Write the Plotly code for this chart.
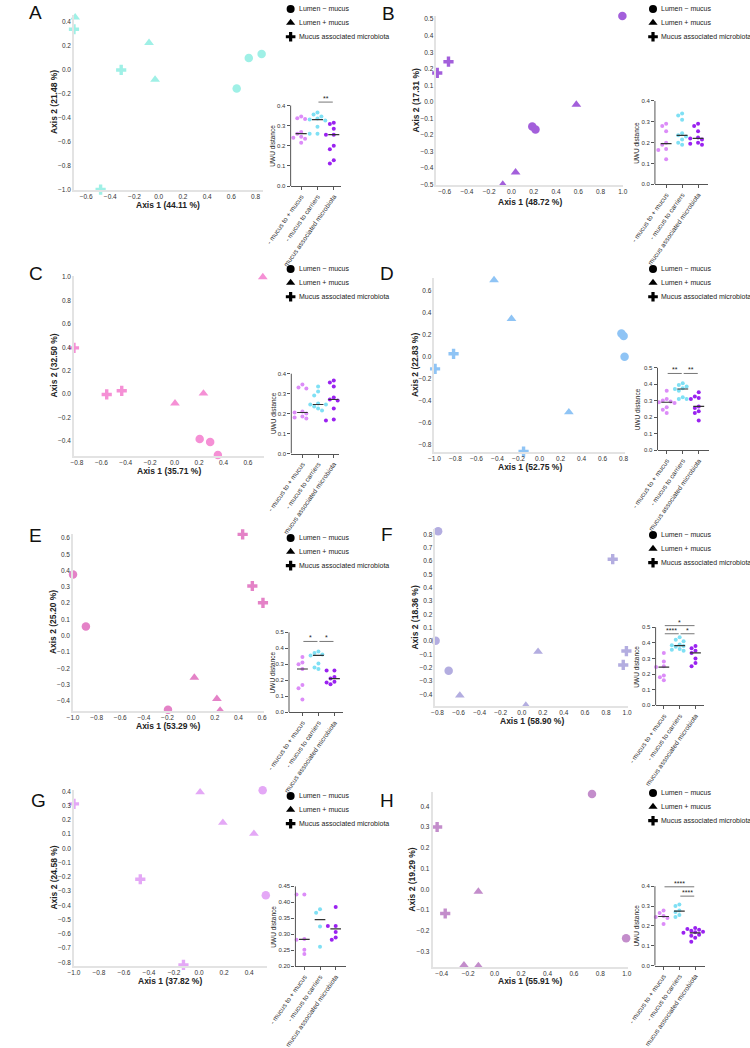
import numpy as np
import plotly.graph_objects as go

W, H = 750, 1048
FONT = "Liberation Sans"

# ------------------------------------------------------------------ data
# PCoA coordinates: lm = Lumen - mucus (circles), lp = Lumen + mucus (triangles),
# ma = Mucus associated microbiota (crosses)
A_lm_x = [0.744, 0.85, 0.644];   A_lm_y = [0.099, 0.134, -0.156]
A_lp_x = [-0.69, -0.08, -0.03];  A_lp_y = [0.44, 0.227, -0.08]
A_ma_x = [-0.70, -0.31, -0.48];  A_ma_y = [0.34, 0.0, -1.0]

B_lm_x = [0.997, 0.187, 0.216];  B_lm_y = [0.52, -0.149, -0.167]
B_lp_x = [0.583, 0.037, -0.078]; B_lp_y = [-0.016, -0.426, -0.50]
B_ma_x = [-0.68, -0.566, -0.667]; B_ma_y = [0.315, 0.243, 0.175]

C_lm_x = [0.205, 0.291, 0.354];  C_lm_y = [-0.384, -0.41, -0.52]
C_lp_x = [0.722, 0.003, 0.236];  C_lp_y = [1.0, -0.079, 0.006]
C_ma_x = [-0.824, -0.556, -0.433]; C_ma_y = [0.395, -0.003, 0.028]

D_lm_x = [0.779, 0.80, 0.809];   D_lm_y = [0.213, 0.19, 0.0]
D_lp_x = [-0.433, -0.267, 0.279]; D_lp_y = [0.70, 0.347, -0.506]
D_ma_x = [-0.818, -0.994, -0.152]; D_ma_y = [0.027, -0.11, -0.865]

E_lm_x = [-1.0, -0.891, -0.196]; E_lm_y = [0.376, 0.057, -0.455]
E_lp_x = [0.027, 0.218, 0.245];  E_lp_y = [-0.257, -0.388, -0.459]
E_ma_x = [0.436, 0.518, 0.608];  E_ma_y = [0.622, 0.305, 0.202]

F_lm_x = [-0.794, -0.818, -0.694]; F_lm_y = [0.823, 0.002, -0.224]
F_lp_x = [0.155, -0.588, 0.039];  F_lp_y = [-0.081, -0.409, -0.485]
F_ma_x = [0.864, 0.994, 0.964];   F_ma_y = [0.613, -0.076, -0.18]

G_lm_x = [0.508, 0.533];          G_lm_y = [0.408, -0.329]
G_lp_x = [0.008, 0.19, 0.438];    G_lp_y = [0.394, 0.18, 0.103]
G_ma_x = [-1.0, -0.47, -0.125];   G_ma_y = [0.312, -0.217, -0.818]

H_lm_x = [0.737, 0.995];          H_lm_y = [0.46, -0.235]
H_lp_x = [-0.123, -0.232, -0.123]; H_lp_y = [-0.01, -0.365, -0.369]
H_ma_x = [-0.471, -0.435, -0.374]; H_ma_y = [0.328, 0.301, -0.116]

# explained variance of the axes (%)
A_pct = ["44.11", "21.48"]; B_pct = ["48.72", "17.31"]
C_pct = ["35.71", "32.50"]; D_pct = ["52.75", "22.83"]
E_pct = ["53.29", "25.20"]; F_pct = ["58.90", "18.36"]
G_pct = ["37.82", "24.58"]; H_pct = ["55.91", "19.29"]

# UWU distances (inset strip plots): d0 = - mucus to + mucus, d1 = - mucus to carriers,
# d2 = mucus associated microbiota
A_d0 = [0.345, 0.337, 0.333, 0.268, 0.26, 0.245, 0.24, 0.235, 0.215]
A_d1 = [0.365, 0.355, 0.345, 0.335, 0.33, 0.325, 0.295, 0.26, 0.26]
A_d2 = [0.315, 0.308, 0.285, 0.255, 0.255, 0.2, 0.183, 0.128, 0.112]
B_d0 = [0.29, 0.28, 0.255, 0.2, 0.19, 0.17, 0.165, 0.12]
B_d1 = [0.34, 0.33, 0.31, 0.245, 0.235, 0.23, 0.215, 0.2, 0.19]
B_d2 = [0.29, 0.28, 0.255, 0.225, 0.22, 0.215, 0.2, 0.195, 0.19]
C_d0 = [0.345, 0.33, 0.325, 0.21, 0.205, 0.2, 0.185, 0.18, 0.175]
C_d1 = [0.335, 0.31, 0.29, 0.25, 0.245, 0.245, 0.235, 0.225, 0.215]
C_d2 = [0.365, 0.355, 0.335, 0.28, 0.27, 0.265, 0.225, 0.17, 0.165]
D_d0 = [0.36, 0.31, 0.3, 0.295, 0.29, 0.285, 0.26, 0.245, 0.225]
D_d1 = [0.405, 0.395, 0.385, 0.375, 0.37, 0.36, 0.32, 0.31, 0.31]
D_d2 = [0.35, 0.325, 0.315, 0.31, 0.265, 0.255, 0.235, 0.225, 0.18]
E_d0 = [0.345, 0.31, 0.3, 0.27, 0.17, 0.15, 0.08]
E_d1 = [0.38, 0.37, 0.36, 0.355, 0.305, 0.28, 0.27]
E_d2 = [0.26, 0.26, 0.22, 0.21, 0.19, 0.185, 0.175]
F_d0 = [0.335, 0.28, 0.25, 0.245, 0.19, 0.18, 0.16]
F_d1 = [0.435, 0.42, 0.41, 0.39, 0.385, 0.38, 0.375, 0.36, 0.355, 0.35]
F_d2 = [0.38, 0.365, 0.35, 0.335, 0.3, 0.27, 0.25]
G_d0 = [0.424, 0.424, 0.285, 0.283, 0.252, 0.238]
G_d1 = [0.378, 0.367, 0.324, 0.261]
G_d2 = [0.385, 0.326, 0.326, 0.307, 0.29, 0.283]
H_d0 = [0.278, 0.265, 0.25, 0.245, 0.24, 0.21]
H_d1 = [0.308, 0.3, 0.278, 0.27, 0.255, 0.245]
H_d2 = [0.19, 0.185, 0.18, 0.175, 0.17, 0.168, 0.165, 0.165, 0.16, 0.155, 0.15, 0.14, 0.12]

# significance brackets: (from category, to category, height, label)
A_sig = [(1, 2, 0.417, "**")]
B_sig = []
C_sig = []
D_sig = [(0, 1, 0.464, "**"), (1, 2, 0.464, "**")]
E_sig = [(0, 1, 0.442, "*"), (1, 2, 0.442, "*")]
F_sig = [(0, 1, 0.458, "****"), (1, 2, 0.458, "*"), (0, 2, 0.51, "*")]
G_sig = []
H_sig = [(0, 2, 0.397, "****"), (1, 2, 0.35, "****")]

INSET_CATS = ["- mucus to + mucus", "- mucus to carriers", "mucus associated microbiota"]
LEGEND_LABELS = ["Lumen \u2212 mucus", "Lumen + mucus", "Mucus associated microbiota"]

# tick values
A_xticks = [-0.6, -0.4, -0.2, 0.0, 0.2, 0.4, 0.6, 0.8]
A_yticks = [-1.0, -0.8, -0.6, -0.4, -0.2, 0.0, 0.2, 0.4]
B_xticks = [-0.6, -0.4, -0.2, 0.0, 0.2, 0.4, 0.6, 0.8, 1.0]
B_yticks = [-0.5, -0.4, -0.3, -0.2, -0.1, 0.0, 0.1, 0.2, 0.3, 0.4, 0.5]
C_xticks = [-0.8, -0.6, -0.4, -0.2, 0.0, 0.2, 0.4, 0.6]
C_yticks = [-0.4, -0.2, 0.0, 0.2, 0.4, 0.6, 0.8, 1.0]
D_xticks = [-1.0, -0.8, -0.6, -0.4, -0.2, 0.0, 0.2, 0.4, 0.6, 0.8]
D_yticks = [-0.8, -0.6, -0.4, -0.2, 0.0, 0.2, 0.4, 0.6]
E_xticks = [-1.0, -0.8, -0.6, -0.4, -0.2, 0.0, 0.2, 0.4, 0.6]
E_yticks = [-0.4, -0.3, -0.2, -0.1, 0.0, 0.1, 0.2, 0.3, 0.4, 0.5, 0.6]
F_xticks = [-0.8, -0.6, -0.4, -0.2, 0.0, 0.2, 0.4, 0.6, 0.8, 1.0]
F_yticks = [-0.4, -0.3, -0.2, -0.1, 0.0, 0.1, 0.2, 0.3, 0.4, 0.5, 0.6, 0.7, 0.8]
G_xticks = [-1.0, -0.8, -0.6, -0.4, -0.2, 0.0, 0.2, 0.4]
G_yticks = [-0.8, -0.7, -0.6, -0.5, -0.4, -0.3, -0.2, -0.1, 0.0, 0.1, 0.2, 0.3, 0.4]
H_xticks = [-0.4, -0.2, 0.0, 0.2, 0.4, 0.6, 0.8, 1.0]
H_yticks = [-0.3, -0.2, -0.1, 0.0, 0.1, 0.2, 0.3, 0.4]
I4_ticks = [0.0, 0.1, 0.2, 0.3, 0.4]
I5_ticks = [0.0, 0.1, 0.2, 0.3, 0.4, 0.5]
G_iticks = [0.20, 0.25, 0.30, 0.35, 0.40, 0.45]

# ------------------------------------------------------------------ styling / layout
PANEL_COLORS = {"A": "#9FF0E6", "B": "#A35FDB", "C": "#F590D5", "D": "#8FC4F5",
                "E": "#E482C7", "F": "#B3ADE0", "G": "#E4A8F6", "H": "#C38DCB"}
INSET_COLORS = ["#DC8CF8", "#7FE0F4", "#9A22F0"]

panels = [
    dict(key="A", lm=(A_lm_x, A_lm_y), lp=(A_lp_x, A_lp_y), ma=(A_ma_x, A_ma_y), pct=A_pct,
         xt=A_xticks, yt=A_yticks, d=(A_d0, A_d1, A_d2), it=I4_ticks, itf=".1f", sig=A_sig,
         sx=(49, 246), sy=(12, 188), xr=(-0.70, 0.86), yr=(-1.0, 0.46), xto=15.5,
         ix=(275, 286, 320, 328), iy=(184.5, 103.3), ir=(0.0, 0.4), leg=(275, 6), let=(9, 9.5), yto=18.5),
    dict(key="B", lm=(B_lm_x, B_lm_y), lp=(B_lp_x, B_lp_y), ma=(B_ma_x, B_ma_y), pct=B_pct,
         xt=B_xticks, yt=B_yticks, d=(B_d0, B_d1, B_d2), it=I4_ticks, itf=".1f", sig=B_sig,
         sx=(427, 622), sy=(13, 183), xr=(-0.675, 1.005), yr=(-0.5, 0.52), xto=17.5,
         ix=(655, 666.7, 700, 710), iy=(182.7, 98.7), ir=(0.0, 0.4), leg=(653, 6), let=(377.5, 10.5), yto=19.5),
    dict(key="C", lm=(C_lm_x, C_lm_y), lp=(C_lp_x, C_lp_y), ma=(C_ma_x, C_ma_y), pct=C_pct,
         xt=C_xticks, yt=C_yticks, d=(C_d0, C_d1, C_d2), it=I4_ticks, itf=".1f", sig=C_sig,
         sx=(49, 247), sy=(275, 456), xr=(-0.824, 0.73), yr=(-0.525, 1.01), xto=15.5,
         ix=(275.7, 287.3, 320, 325), iy=(454, 373.3), ir=(0.0, 0.4), leg=(275, 268), let=(9, 272.5), yto=18.5),
    dict(key="D", lm=(D_lm_x, D_lm_y), lp=(D_lp_x, D_lp_y), ma=(D_ma_x, D_ma_y), pct=D_pct,
         xt=D_xticks, yt=D_yticks, d=(D_d0, D_d1, D_d2), it=I5_ticks, itf=".1f", sig=D_sig,
         sx=(425, 624), sy=(277, 452), xr=(-1.0, 0.815), yr=(-0.865, 0.72), xto=16,
         ix=(657.7, 667.3, 700.7, 711), iy=(450.7, 367.3), ir=(0.0, 0.5), leg=(653, 268), let=(375.5, 272.5), yto=20),
    dict(key="E", lm=(E_lm_x, E_lm_y), lp=(E_lp_x, E_lp_y), ma=(E_ma_x, E_ma_y), pct=E_pct,
         xt=E_xticks, yt=E_yticks, d=(E_d0, E_d1, E_d2), it=I5_ticks, itf=".1f", sig=E_sig,
         sx=(48, 247), sy=(535, 713), xr=(-1.0, 0.615), yr=(-0.46, 0.625), xto=16,
         ix=(273.3, 287.3, 320.7, 330), iy=(714.7, 634), ir=(0.0, 0.5), leg=(275, 539), let=(8.5, 537), yto=17.5),
    dict(key="F", lm=(F_lm_x, F_lm_y), lp=(F_lp_x, F_lp_y), ma=(F_ma_x, F_ma_y), pct=F_pct,
         xt=F_xticks, yt=F_yticks, d=(F_d0, F_d1, F_d2), it=I5_ticks, itf=".1f", sig=F_sig,
         sx=(426, 627), sy=(530, 708), xr=(-0.82, 1.01), yr=(-0.485, 0.84), xto=15.5,
         ix=(655.7, 664.3, 697.3, 706.7), iy=(707.7, 629), ir=(0.0, 0.5), leg=(653, 536), let=(375, 536), yto=20),
    dict(key="G", lm=(G_lm_x, G_lm_y), lp=(G_lp_x, G_lp_y), ma=(G_ma_x, G_ma_y), pct=G_pct,
         xt=G_xticks, yt=G_yticks, d=(G_d0, G_d1, G_d2), it=G_iticks, itf=".2f", sig=G_sig,
         sx=(49, 250), sy=(793, 970), xr=(-1.0, 0.54), yr=(-0.823, 0.41), xto=15.5,
         ix=(280, 289.3, 322, 332.7), iy=(970.7, 890), ir=(0.20, 0.45), leg=(275, 799), let=(11.5, 803.5), yto=23),
    dict(key="H", lm=(H_lm_x, H_lm_y), lp=(H_lp_x, H_lp_y), ma=(H_ma_x, H_ma_y), pct=H_pct,
         xt=H_xticks, yt=H_yticks, d=(H_d0, H_d1, H_d2), it=I4_ticks, itf=".1f", sig=H_sig,
         sx=(423, 627), sy=(795, 971), xr=(-0.47, 1.01), yr=(-0.372, 0.47), xto=15,
         ix=(655, 664, 697, 707.7), iy=(970, 890), ir=(0.0, 0.4), leg=(653, 796), let=(375.5, 803.5), yto=19),
]


def px2paper_x(px):
    return px / W


def px2paper_y(py):
    return 1 - py / H


def swarm(vals, cat_px, y_px, d=4.3):
    """horizontal offsets (category units) so that dots do not overlap"""
    vals = np.asarray(vals, float)
    order = np.argsort(-vals, kind="stable")
    placed = []
    offs = np.zeros(len(vals))
    for i in order:
        yp = vals[i] * y_px
        for k in [0, -1, 1, -2, 2, -3, 3]:
            xp = k * d * 0.95
            if all((xp - a) ** 2 + (yp - b) ** 2 >= d * d for a, b in placed):
                break
        placed.append((xp, yp))
        offs[i] = xp / cat_px
    return offs


fig = go.Figure()
layout = dict(width=W, height=H, margin=dict(l=0, r=0, t=0, b=0),
              paper_bgcolor="white", plot_bgcolor="rgba(0,0,0,0)", showlegend=False,
              font=dict(family=FONT, color="#222"))
annotations = []
shapes = []

TICKFONT = dict(family=FONT, size=6.5, color="#333")
ITICKFONT = dict(family=FONT, size=6.0, color="#333")
CATFONT = dict(family=FONT, size=6.7, color="#333")

for k, p in enumerate(panels):
    n1, n2 = 2 * k + 1, 2 * k + 2
    xa1 = "x" if n1 == 1 else f"x{n1}"
    ya1 = "y" if n1 == 1 else f"y{n1}"
    xa2, ya2 = f"x{n2}", f"y{n2}"
    col = PANEL_COLORS[p["key"]]

    # ---------------- PCoA scatter
    for (xs, ys), sym in [(p["lm"], "circle"), (p["lp"], "triangle-up"), (p["ma"], "cross")]:
        fig.add_trace(go.Scatter(x=xs, y=ys, mode="markers", xaxis=xa1, yaxis=ya1,
                                 cliponaxis=False, hoverinfo="skip",
                                 marker=dict(symbol=sym, size=8.5, color=col, line=dict(width=0))))
    sx0, sx1 = p["sx"]
    sy0, sy1 = p["sy"]
    layout["xaxis" if n1 == 1 else f"xaxis{n1}"] = dict(
        domain=[px2paper_x(sx0), px2paper_x(sx1)], range=list(p["xr"]), anchor=ya1,
        tickvals=p["xt"], tickformat=".1f", ticks="", showgrid=False, zeroline=False,
        showline=True, linecolor="#e3e3e3", linewidth=1.5, tickfont=TICKFONT, fixedrange=True)
    layout["yaxis" if n1 == 1 else f"yaxis{n1}"] = dict(
        domain=[px2paper_y(sy1), px2paper_y(sy0)], range=list(p["yr"]), anchor=xa1,
        tickvals=p["yt"], tickformat=".1f", ticks="", showgrid=False, zeroline=False,
        showline=True, linecolor="#e3e3e3", linewidth=1.5, tickfont=TICKFONT, fixedrange=True)
    annotations.append(dict(x=px2paper_x((sx0 + sx1) / 2), y=px2paper_y(sy1 + p["xto"]), xref="paper", yref="paper",
                            text=f"<b>Axis 1 ({p['pct'][0]} %)</b>", showarrow=False,
                            xanchor="center", yanchor="middle", font=dict(size=8.5, color="#222")))
    annotations.append(dict(x=px2paper_x(sx0 - 21), y=px2paper_y((sy0 + sy1) / 2), xref="paper", yref="paper",
                            text=f"<b>Axis 2 ({p['pct'][1]} %)</b>", showarrow=False, textangle=-90,
                            xanchor="center", yanchor="middle", font=dict(size=8.5, color="#222")))

    # ---------------- panel letter
    annotations.append(dict(x=px2paper_x(p["let"][0]), y=px2paper_y(p["let"][1]), xref="paper", yref="paper",
                            text=p["key"], showarrow=False, xanchor="center", yanchor="middle",
                            font=dict(size=19, color="#111", family=FONT)))

    # ---------------- legend text
    lx, ly = p["leg"]
    for r, lab in enumerate(LEGEND_LABELS):
        annotations.append(dict(x=px2paper_x(lx + 6.5), y=px2paper_y(ly + 14 * r), xref="paper", yref="paper",
                                text=lab, showarrow=False, xanchor="left", yanchor="middle",
                                font=dict(size=7, color="#222")))

    # ---------------- inset strip plot
    x0, c0, c2, x1 = p["ix"]
    yb, yt = p["iy"]
    r0, r1 = p["ir"]
    s = (c2 - c0) / 2.0
    rl = -(c0 - x0) / s
    rr = 2 + (x1 - c2) / s
    ypx = (yb - yt) / (r1 - r0)
    # extend the plotting range upward so brackets fit inside; axis line drawn to last tick only
    top = max([r1] + [h + 0.03 for (_, _, h, _) in p["sig"]])
    ytop_px = yb - (top - r0) * ypx
    for c, vals in enumerate(p["d"]):
        offs = swarm(vals, s, ypx)
        fig.add_trace(go.Scatter(x=c + offs, y=vals, mode="markers", xaxis=xa2, yaxis=ya2,
                                 cliponaxis=False, hoverinfo="skip",
                                 marker=dict(symbol="circle", size=4, color=INSET_COLORS[c],
                                             line=dict(width=0))))
        med = float(np.median(vals))
        fig.add_trace(go.Scatter(x=[c - 0.34, c + 0.34], y=[med, med], mode="lines",
                                 xaxis=xa2, yaxis=ya2, hoverinfo="skip",
                                 line=dict(color="#333", width=1.2)))
    layout[f"xaxis{n2}"] = dict(
        domain=[px2paper_x(x0), px2paper_x(x1)], range=[rl, rr], anchor=ya2,
        tickvals=[0, 1, 2], ticktext=INSET_CATS, tickangle=-55, ticks="outside", ticklen=3,
        tickcolor="#555", tickwidth=1, showgrid=False, zeroline=False, showline=True,
        linecolor="#555", linewidth=1, tickfont=CATFONT, fixedrange=True)
    layout[f"yaxis{n2}"] = dict(
        domain=[px2paper_y(yb), px2paper_y(ytop_px)], range=[r0, top], anchor=xa2,
        tickvals=p["it"], tickformat=p["itf"], ticks="outside", ticklen=3, tickcolor="#555",
        tickwidth=1, showgrid=False, zeroline=False, showline=False, fixedrange=True,
        tickfont=ITICKFONT)
    shapes.append(dict(type="line", xref="paper", yref=ya2, x0=px2paper_x(x0), x1=px2paper_x(x0),
                       y0=r0, y1=r1, line=dict(color="#555", width=1)))
    annotations.append(dict(x=px2paper_x(x0 - p["yto"]), y=px2paper_y((yb + yt) / 2), xref="paper", yref="paper",
                            text="UWU distance", showarrow=False, textangle=-90,
                            xanchor="center", yanchor="middle", font=dict(size=6.5, color="#222")))
    for (i, j, h, lab) in p["sig"]:
        shapes.append(dict(type="line", xref=xa2, yref=ya2, x0=i + 0.06, x1=j - 0.06,
                           y0=h, y1=h, line=dict(color="#777", width=1)))
        annotations.append(dict(x=(i + j) / 2, y=h, xref=xa2, yref=ya2, text=lab, showarrow=False,
                                xanchor="center", yanchor="middle", yshift=3.5,
                                font=dict(size=7, color="#222")))

# ---------------- legend symbols on a full-figure pixel overlay
NL = 2 * len(panels) + 1
leg_x, leg_y, leg_sym = [], [], []
for p in panels:
    lx, ly = p["leg"]
    for r, sym in enumerate(["circle", "triangle-up", "cross"]):
        leg_x.append(lx); leg_y.append(ly + 14 * r); leg_sym.append(sym)
fig.add_trace(go.Scatter(x=leg_x, y=leg_y, mode="markers", xaxis=f"x{NL}", yaxis=f"y{NL}",
                         cliponaxis=False, hoverinfo="skip",
                         marker=dict(symbol=leg_sym, size=8, color="#000")))
layout[f"xaxis{NL}"] = dict(domain=[0, 1], range=[0, W], visible=False, anchor=f"y{NL}", fixedrange=True)
layout[f"yaxis{NL}"] = dict(domain=[0, 1], range=[H, 0], visible=False, anchor=f"x{NL}", fixedrange=True)

layout["annotations"] = annotations
layout["shapes"] = shapes
fig.update_layout(**layout)
fig.write_html("out.html")
